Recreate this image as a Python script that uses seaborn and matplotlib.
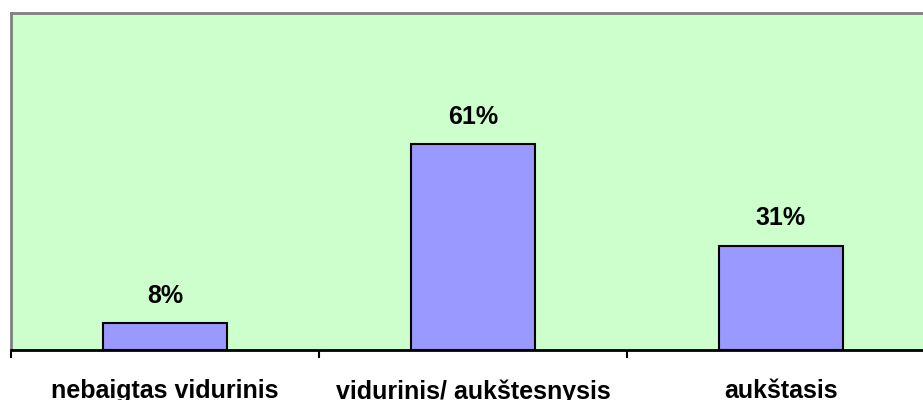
import pandas as pd
import seaborn as sns
import matplotlib.pyplot as plt

sns.set_style("white")
plt.rcParams['font.family'] = ['Liberation Sans', 'DejaVu Sans']
plt.rcParams['text.color'] = 'black'
plt.rcParams['xtick.color'] = 'black'

categories = ['nebaigtas vidurinis', 'vidurinis/ aukštesnysis', 'aukštasis']
values = [8, 61, 31]
labels = ['8%', '61%', '31%']

df = pd.DataFrame({'cat': categories, 'val': values})

fig = plt.figure(figsize=(9.23, 4.0), dpi=100)
ax = fig.add_axes([11 / 923, 50 / 400, 924 / 923, 337 / 400])
ax.set_facecolor('#CCFFCC')

sns.barplot(data=df, x='cat', y='val', color='#9999FF', width=0.4,
            edgecolor='black', linewidth=1.5, saturation=1, ax=ax)

for i, (v, t) in enumerate(zip(values, labels)):
    ax.annotate(t, (i, v), xytext=(0, 11), textcoords='offset points',
                ha='center', va='bottom', fontsize=18, fontweight='bold',
                color='black')

ax.set_xlim(-0.5, 2.5)
ax.set_ylim(0, 100)
ax.set_xlabel('')
ax.set_ylabel('')
ax.set_yticks([])
ax.tick_params(axis='x', which='major', length=0, pad=21, labelsize=18,
               labelcolor='black')
for lab in ax.get_xticklabels():
    lab.set_fontweight('bold')
ax.set_xticks([-0.5, 0.5, 1.5, 2.5], minor=True)
ax.tick_params(axis='x', which='minor', bottom=True, length=6, width=1.5,
               color='black', direction='out')

for side in ['left', 'top']:
    ax.spines[side].set_color('#808080')
    ax.spines[side].set_linewidth(2)
ax.spines['right'].set_visible(False)
ax.spines['bottom'].set_color('black')
ax.spines['bottom'].set_linewidth(2)

fig.savefig('out.png', dpi=100)
